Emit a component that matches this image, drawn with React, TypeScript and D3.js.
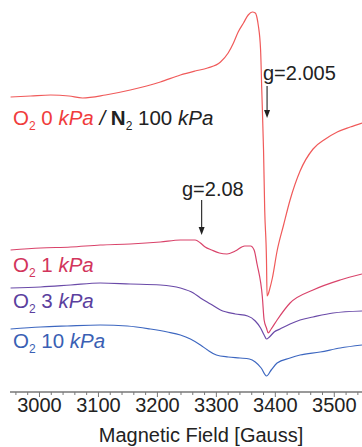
import React, { useEffect, useRef } from "react";
import * as d3 from "d3";

// [field (G), signal (a.u., offset per trace)]
const o2_0kPa: [number, number][] = [
  [2951, 295], [2985, 296], [3019, 297], [3050, 296], [3073, 294], [3112, 297],
  [3154, 302], [3205, 310], [3239, 317], [3264, 321], [3285, 324], [3307, 330],
  [3320, 339], [3329, 349], [3337, 360], [3346, 369], [3354, 377], [3361, 380],
  [3366, 379], [3369, 374], [3371, 367], [3375, 342], [3377, 302], [3380, 242],
  [3382, 182], [3385, 132], [3386, 96], [3388, 98], [3390, 102], [3395, 114],
  [3403, 141], [3414, 167], [3425, 192], [3442, 221], [3464, 243], [3485, 253],
  [3505, 260], [3527, 265], [3547, 269],
];
const o2_1kPa: [number, number][] = [
  [2951, 142], [3002, 144], [3053, 145], [3103, 147], [3154, 148], [3205, 150],
  [3239, 152], [3264, 152], [3273, 149], [3281, 145], [3292, 142], [3305, 139],
  [3318, 138], [3332, 141], [3348, 146], [3358, 146], [3364, 142], [3369, 128],
  [3378, 95], [3381, 72], [3385, 64], [3388, 59], [3393, 63], [3403, 72],
  [3425, 89], [3464, 102], [3510, 112], [3547, 118],
];
const o2_3kPa: [number, number][] = [
  [2951, 104], [3002, 105], [3053, 107], [3103, 109], [3154, 108], [3205, 107],
  [3239, 104], [3261, 99], [3273, 94], [3290, 88], [3307, 82], [3332, 78],
  [3353, 76], [3366, 71], [3375, 64], [3381, 57], [3385, 53], [3390, 55],
  [3398, 60], [3408, 63], [3425, 68], [3442, 72], [3464, 75], [3498, 79], [3547, 81],
];
const o2_10kPa: [number, number][] = [
  [2951, 63], [3002, 65], [3047, 66], [3103, 67], [3149, 66], [3188, 63],
  [3217, 60], [3239, 57], [3256, 53], [3273, 47], [3285, 42], [3300, 37],
  [3320, 35], [3340, 34], [3356, 33], [3366, 30], [3376, 24], [3385, 16],
  [3393, 22], [3403, 29], [3425, 34], [3442, 37], [3476, 40], [3510, 44], [3547, 47],
];

const seriesColors = ["#f05a5a", "#d9436a", "#6a4aa8", "#3d67c0"];
const labelColors = ["#f03c3c", "#d2355c", "#5b3f9e", "#3a5fb4"];
const pressures = ["0", "1", "3", "10"];
const majorTicks = [3000, 3100, 3200, 3300, 3400, 3500];
const gMarkers: { field: number; label: string }[] = [
  { field: 3386, label: "g=2.005" },
  { field: 3275, label: "g=2.08" },
];

const W = 362;
const H = 447;
const FONT = "'Liberation Sans', Arial, sans-serif";

export default function App() {
  const ref = useRef<SVGSVGElement>(null);

  useEffect(() => {
    const svg = d3.select(ref.current);
    svg.selectAll("*").remove();

    const x = d3.scaleLinear().domain([2950, 3547]).range([10, 362]);
    const y = d3.scaleLinear().domain([0, 382]).range([392, 10]);

    const line = d3
      .line<[number, number]>()
      .x((d) => x(d[0]))
      .y((d) => y(d[1]))
      .curve(d3.curveMonotoneX);

    const series = [o2_0kPa, o2_1kPa, o2_3kPa, o2_10kPa];
    svg
      .append("g")
      .selectAll("path")
      .data(series)
      .join("path")
      .attr("d", (d) => line(d))
      .attr("fill", "none")
      .attr("stroke", (d, i) => seriesColors[i])
      .attr("stroke-width", 1.2);

    // axis
    const axis = svg.append("g");
    axis
      .append("line")
      .attr("x1", 10)
      .attr("x2", W)
      .attr("y1", 392)
      .attr("y2", 392)
      .attr("stroke", "#777")
      .attr("stroke-width", 1.5);
    const minor = d3.range(2960, 3547, 20);
    axis
      .selectAll("line.tick")
      .data(minor)
      .join("line")
      .attr("class", "tick")
      .attr("x1", (d) => x(d))
      .attr("x2", (d) => x(d))
      .attr("y1", 392)
      .attr("y2", (d) => (d % 100 === 0 ? 397 : 395))
      .attr("stroke", "#777")
      .attr("stroke-width", 1);
    axis
      .selectAll("text")
      .data(majorTicks)
      .join("text")
      .attr("x", (d) => x(d))
      .attr("y", 412)
      .attr("text-anchor", "middle")
      .attr("font-family", FONT)
      .attr("font-size", 20)
      .attr("fill", "#222")
      .text((d) => d);
    svg
      .append("text")
      .attr("x", 201)
      .attr("y", 442)
      .attr("text-anchor", "middle")
      .attr("font-family", FONT)
      .attr("font-size", 20)
      .attr("fill", "#222")
      .text("Magnetic Field [Gauss]");

    // trace labels
    const baselines = [125, 272, 308, 348];
    pressures.forEach((p, i) => {
      const t = svg
        .append("text")
        .attr("x", 13)
        .attr("y", baselines[i])
        .attr("font-family", FONT)
        .attr("font-size", 20.5)
        .attr("fill", labelColors[i]);
      t.append("tspan").text("O");
      t.append("tspan").attr("font-size", 12).attr("dy", 5).text("2");
      t.append("tspan").attr("dy", -5).text(` ${p} `);
      t.append("tspan").attr("font-style", "italic").text("kPa");
      if (i === 0) {
        const k = t.append("tspan").attr("fill", "#222");
        k.append("tspan").attr("font-style", "italic").text(" / ");
        k.append("tspan").attr("font-weight", "bold").text("N");
        k.append("tspan").attr("font-size", 12).attr("dy", 5).text("2");
        k.append("tspan").attr("dy", -5).text(" 100 ");
        k.append("tspan").attr("font-style", "italic").text("kPa");
      }
    });

    // g-value markers
    const markerPos = [
      { textX: 263, textY: 80, y1: 86, y2: 118 },
      { textX: 182, textY: 196, y1: 200, y2: 235 },
    ];
    gMarkers.forEach((m, i) => {
      const p = markerPos[i];
      const ax = x(m.field);
      svg
        .append("text")
        .attr("x", p.textX)
        .attr("y", p.textY)
        .attr("font-family", FONT)
        .attr("font-size", 20)
        .attr("fill", "#222")
        .text(m.label);
      svg
        .append("line")
        .attr("x1", ax)
        .attr("x2", ax)
        .attr("y1", p.y1)
        .attr("y2", p.y2 - 6)
        .attr("stroke", "#333")
        .attr("stroke-width", 1.2);
      svg
        .append("path")
        .attr("d", `M${ax - 3},${p.y2 - 8}L${ax + 3},${p.y2 - 8}L${ax},${p.y2}Z`)
        .attr("fill", "#222");
    });
  }, []);

  return (
    <svg
      ref={ref}
      width={W}
      height={H}
      style={{ position: "absolute", left: 0, top: 0, background: "#fff" }}
    />
  );
}
